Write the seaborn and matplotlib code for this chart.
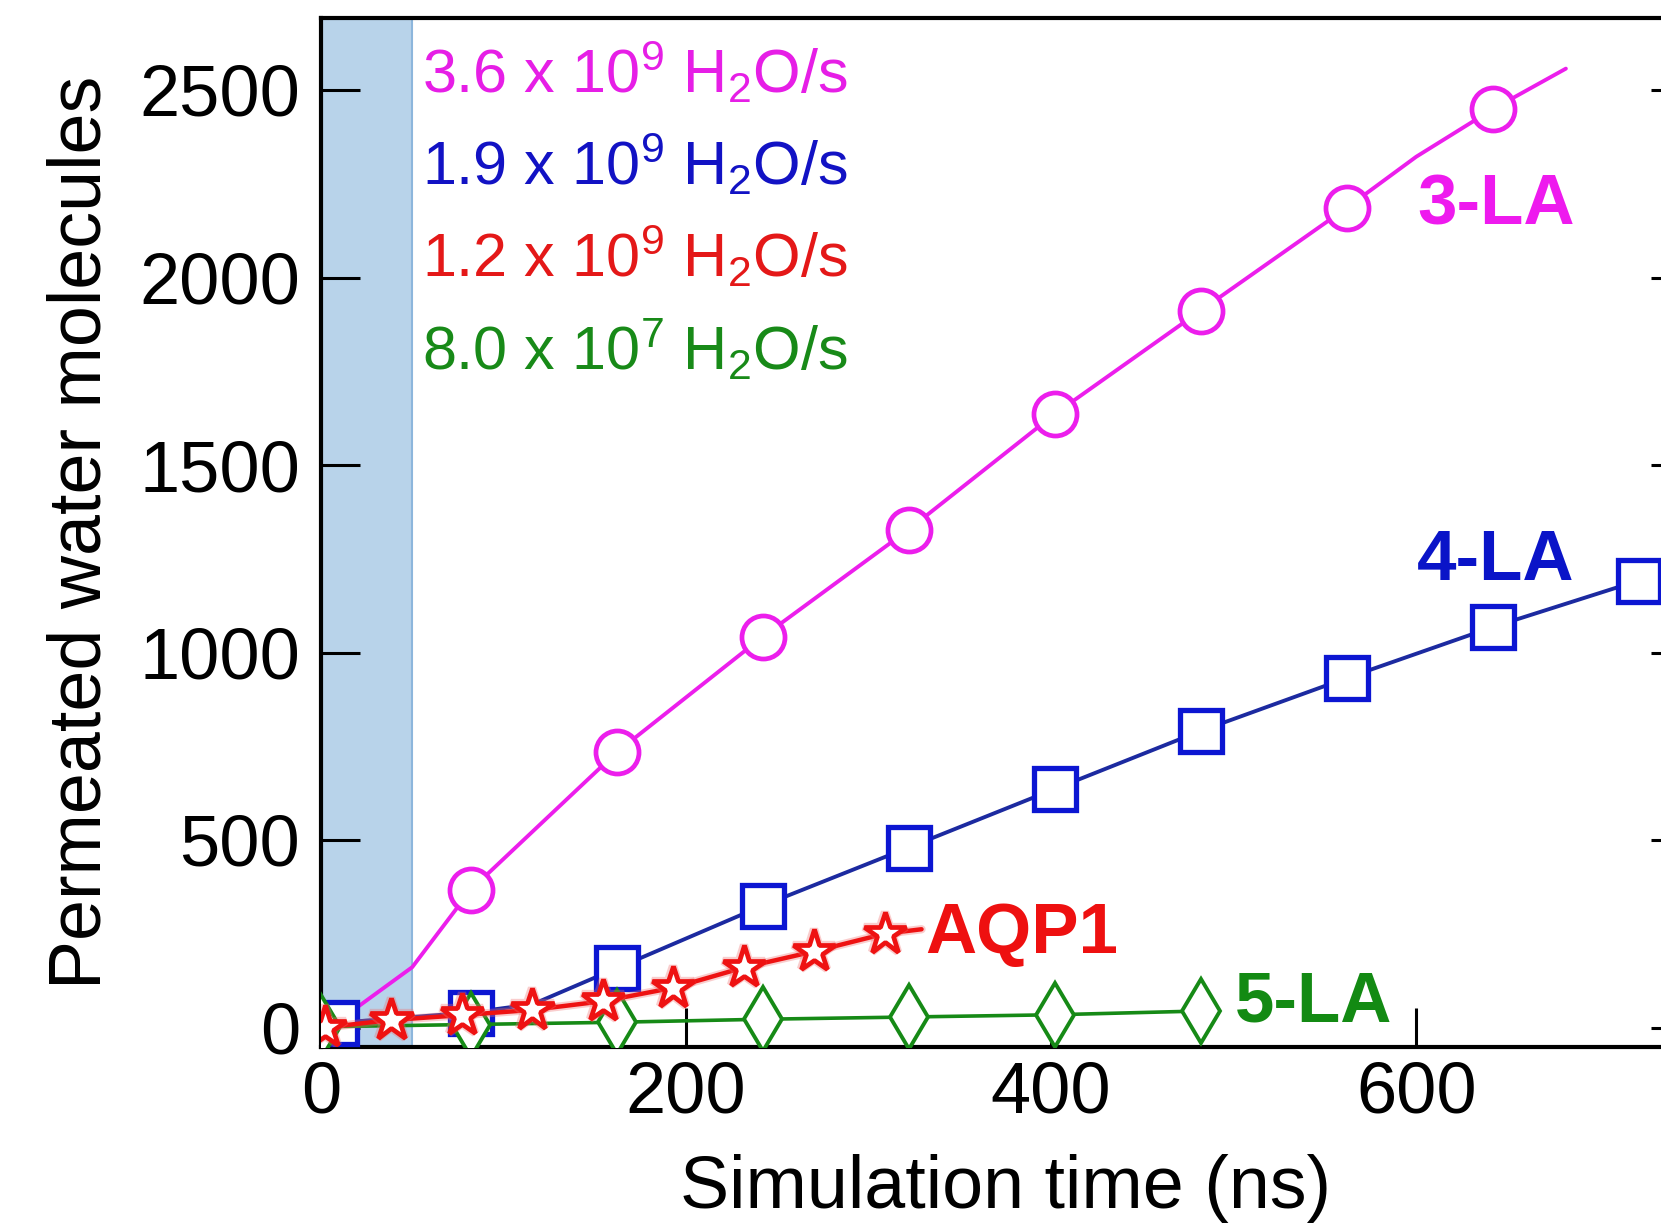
import matplotlib
matplotlib.use("Agg")
import matplotlib.pyplot as plt
import matplotlib.patheffects as pe
import seaborn as sns

# data (time in ns, permeated water molecules)
t_3la = [8, 50, 82, 162, 242, 322, 402, 482, 562, 600, 642, 682]
n_3la = [12, 161, 367, 734, 1042, 1328, 1636, 1912, 2186, 2322, 2449, 2557]
mark_3la = [2, 3, 4, 5, 6, 7, 8, 10]

t_4la = [8, 82, 116, 162, 242, 322, 402, 482, 562, 642, 722]
n_4la = [12, 40, 62, 158, 325, 480, 636, 791, 932, 1068, 1192]
mark_4la = [0, 1, 3, 4, 5, 6, 7, 8, 9, 10]

t_aqp1 = [2, 38.6, 77.2, 115.8, 154.4, 193, 231.6, 270.2, 308.8, 329]
n_aqp1 = [0, 20, 33, 47, 70, 106, 160, 203, 250, 262]
mark_aqp1 = [0, 1, 2, 3, 4, 5, 6, 7, 8]

t_5la = [0, 82, 162, 242, 322, 402, 482]
n_5la = [2, 8, 14, 22, 28, 34, 44]

rates = [r"3.6 x 10$^{9}$ H$_{2}$O/s", r"1.9 x 10$^{9}$ H$_{2}$O/s",
         r"1.2 x 10$^{9}$ H$_{2}$O/s", r"8.0 x 10$^{7}$ H$_{2}$O/s"]
rate_y = [2492, 2245, 2000, 1751]

names = ["3-LA", "4-LA", "AQP1", "5-LA"]
name_x = [600.6, 600.6, 330.8, 500.8]
name_y = [2141, 1192, 198, 14.7]

magenta = "#ec1eec"
blue = "#0c16d2"
navy = "#1c2aa0"
red = "#ee1212"
green = "#168a16"
text_cols = ["#e61ee6", "#1212c4", "#e41818", "#188a18"]
name_cols = ["#ee1aee", "#0a14c8", "#ee1010", "#138a13"]

sns.set_style("ticks")
plt.rcParams["font.family"] = ["Liberation Sans", "DejaVu Sans"]
plt.rcParams["mathtext.default"] = "regular"
plt.rcParams["text.color"] = "black"
plt.rcParams["axes.labelcolor"] = "black"

fig = plt.figure(figsize=(16.61, 12.28), dpi=100)
ax = fig.add_axes([321 / 1661, 1 - 1047 / 1228, (1690 - 321) / 1661, (1047 - 18) / 1228])

# shaded equilibration window
ax.axvspan(0, 50, color="#b8d3ea", zorder=0, lw=0)
ax.axvline(50, color="#8db6dc", lw=1.5, zorder=0.5)

sns.lineplot(x=t_3la, y=n_3la, ax=ax, color=magenta, lw=2.8, marker="o",
             markersize=31, markerfacecolor="white", markeredgecolor=magenta,
             markeredgewidth=3.4, markevery=mark_3la, zorder=3)
sns.lineplot(x=t_4la, y=n_4la, ax=ax, color=navy, lw=2.8, marker="s",
             markersize=30, markerfacecolor="white", markeredgecolor=blue,
             markeredgewidth=3.8, markevery=mark_4la, zorder=4)
sns.lineplot(x=t_5la, y=n_5la, ax=ax, color=green, lw=2.6, marker="d",
             markersize=33, markerfacecolor="white", markeredgecolor=green,
             markeredgewidth=2.8, zorder=5)
sns.lineplot(x=t_aqp1, y=n_aqp1, ax=ax, color=red, lw=3.2, marker="*",
             markersize=32, markerfacecolor="white", markeredgecolor=red,
             markeredgewidth=3.4, markevery=mark_aqp1, zorder=6,
             path_effects=[pe.Stroke(linewidth=6, foreground="#f07070", alpha=0.35),
                           pe.Normal()])

for txt, yy, c in zip(rates, rate_y, text_cols):
    ax.text(55.3, yy, txt, color=c, fontsize=44, va="baseline", ha="left", zorder=7)

for txt, xx, yy, c in zip(names, name_x, name_y, name_cols):
    ax.text(xx, yy, txt, color=c, fontsize=51, fontweight="bold",
            va="baseline", ha="left", zorder=7)

ax.set_xlim(0, 750)
ax.set_ylim(-52, 2692)
ax.set_xticks([0, 200, 400, 600])
ax.set_yticks([0, 500, 1000, 1500, 2000, 2500])

for side in ["left", "right", "top", "bottom"]:
    ax.spines[side].set_visible(True)
    ax.spines[side].set_linewidth(3)
    ax.spines[side].set_color("black")
ax.tick_params(direction="in", length=28, width=2.2, labelsize=52,
               left=True, right=True, bottom=True, top=False,
               colors="black", labelcolor="black")
ax.tick_params(axis="x", pad=10)
ax.tick_params(axis="y", pad=15)

ax.set_xlabel("Simulation time (ns)", fontsize=53, color="black")
ax.set_ylabel("Permeated water molecules", fontsize=53, color="black")
ax.xaxis.set_label_coords(0.5, -0.104)
ax.yaxis.set_label_coords(-0.15, 0.5)
ax.grid(False)

fig.savefig("out.png", dpi=100)
